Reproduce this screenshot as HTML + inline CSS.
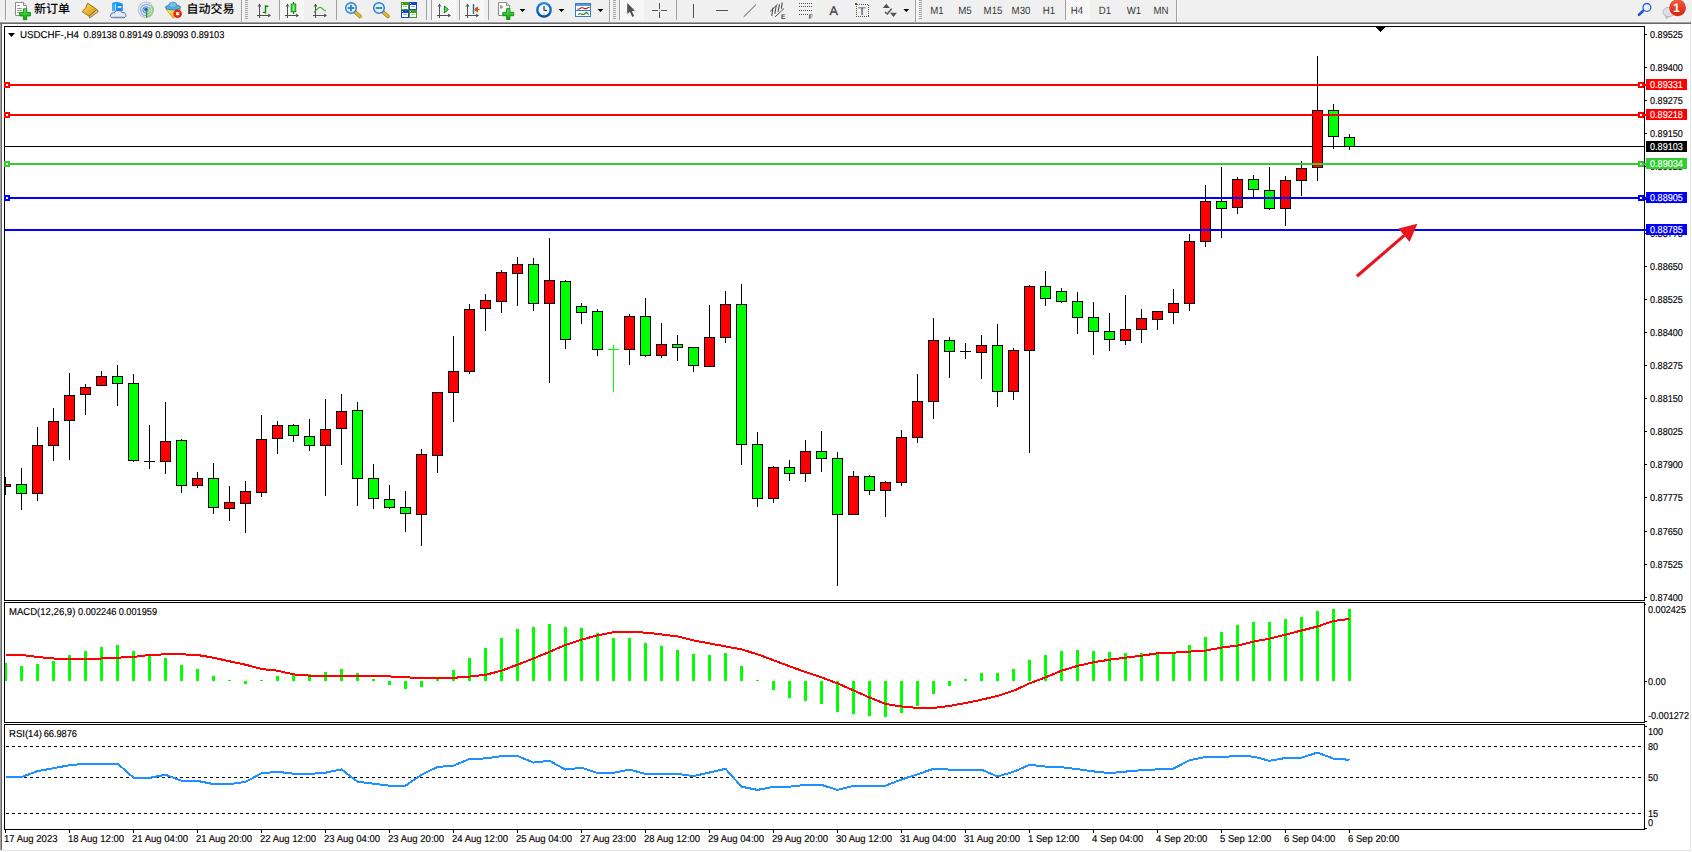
<!DOCTYPE html>
<html><head><meta charset="utf-8"><title>USDCHF-,H4</title>
<style>
html,body{margin:0;padding:0;background:#fff;overflow:hidden}
body{width:1692px;height:852px;position:relative;font-family:"Liberation Sans","Noto Sans CJK SC",sans-serif}
svg{position:absolute;left:0;top:0;display:block}
svg text{font-family:"Liberation Sans","Noto Sans CJK SC",sans-serif;white-space:pre;text-rendering:geometricPrecision}
#chart rect{shape-rendering:crispEdges}
</style></head><body>
<svg id="chart" width="1692" height="852" viewBox="0 0 1692 852">
<rect x="0" y="0" width="1692" height="22" fill="#f0f0f0"/>
<rect x="0" y="22" width="1691" height="1" fill="#a0a0a0"/>
<rect x="0" y="23" width="1691" height="1" fill="#696969"/>
<rect x="0" y="24" width="1" height="827" fill="#a0a0a0"/>
<rect x="1" y="24" width="1" height="827" fill="#696969"/>
<rect x="1690" y="24" width="1" height="827" fill="#e3e3e3"/>
<rect x="0" y="850" width="1691" height="1" fill="#e3e3e3"/>
<rect x="4" y="26" width="1641" height="1" fill="#000"/>
<rect x="4" y="26" width="1" height="804" fill="#000"/>
<rect x="1644" y="26" width="1" height="804" fill="#000"/>
<rect x="4" y="600" width="1641" height="1" fill="#000"/>
<rect x="4" y="602" width="1641" height="1" fill="#000"/>
<rect x="4" y="722" width="1641" height="1" fill="#000"/>
<rect x="4" y="724" width="1641" height="1" fill="#000"/>
<rect x="4" y="829" width="1641" height="1" fill="#000"/>
<rect x="4" y="601" width="1641" height="1" fill="#fff"/>
<rect x="4" y="723" width="1641" height="1" fill="#fff"/>
<path d="M1376 27H1385L1380.5 32Z" fill="#000" shape-rendering="crispEdges"/>
<rect x="5" y="146" width="1639" height="1" fill="#000"/>
<rect x="5" y="477" width="1" height="18" fill="#000"/>
<rect x="5" y="484" width="6" height="3" fill="#000"/>
<rect x="5" y="485" width="5" height="1" fill="#ff0000"/>
<rect x="21" y="468" width="1" height="42" fill="#000"/>
<rect x="16" y="484" width="11" height="10" fill="#000"/>
<rect x="17" y="485" width="9" height="8" fill="#00ff00"/>
<rect x="37" y="427" width="1" height="74" fill="#000"/>
<rect x="32" y="445" width="11" height="49" fill="#000"/>
<rect x="33" y="446" width="9" height="47" fill="#ff0000"/>
<rect x="53" y="408" width="1" height="53" fill="#000"/>
<rect x="48" y="421" width="11" height="25" fill="#000"/>
<rect x="49" y="422" width="9" height="23" fill="#ff0000"/>
<rect x="69" y="373" width="1" height="87" fill="#000"/>
<rect x="64" y="395" width="11" height="26" fill="#000"/>
<rect x="65" y="396" width="9" height="24" fill="#ff0000"/>
<rect x="85" y="384" width="1" height="31" fill="#000"/>
<rect x="80" y="387" width="11" height="8" fill="#000"/>
<rect x="81" y="388" width="9" height="6" fill="#ff0000"/>
<rect x="101" y="371" width="1" height="15" fill="#000"/>
<rect x="96" y="376" width="11" height="10" fill="#000"/>
<rect x="97" y="377" width="9" height="8" fill="#ff0000"/>
<rect x="117" y="365" width="1" height="41" fill="#000"/>
<rect x="112" y="376" width="11" height="8" fill="#000"/>
<rect x="113" y="377" width="9" height="6" fill="#00ff00"/>
<rect x="133" y="374" width="1" height="88" fill="#000"/>
<rect x="128" y="383" width="11" height="78" fill="#000"/>
<rect x="129" y="384" width="9" height="76" fill="#00ff00"/>
<rect x="149" y="425" width="1" height="44" fill="#000"/>
<rect x="144" y="461" width="11" height="1" fill="#000"/>
<rect x="165" y="402" width="1" height="72" fill="#000"/>
<rect x="160" y="441" width="11" height="21" fill="#000"/>
<rect x="161" y="442" width="9" height="19" fill="#ff0000"/>
<rect x="181" y="439" width="1" height="54" fill="#000"/>
<rect x="176" y="440" width="11" height="46" fill="#000"/>
<rect x="177" y="441" width="9" height="44" fill="#00ff00"/>
<rect x="197" y="472" width="1" height="16" fill="#000"/>
<rect x="192" y="478" width="11" height="8" fill="#000"/>
<rect x="193" y="479" width="9" height="6" fill="#ff0000"/>
<rect x="213" y="463" width="1" height="51" fill="#000"/>
<rect x="208" y="478" width="11" height="30" fill="#000"/>
<rect x="209" y="479" width="9" height="28" fill="#00ff00"/>
<rect x="229" y="486" width="1" height="35" fill="#000"/>
<rect x="224" y="502" width="11" height="7" fill="#000"/>
<rect x="225" y="503" width="9" height="5" fill="#ff0000"/>
<rect x="245" y="481" width="1" height="52" fill="#000"/>
<rect x="240" y="491" width="11" height="13" fill="#000"/>
<rect x="241" y="492" width="9" height="11" fill="#ff0000"/>
<rect x="261" y="415" width="1" height="82" fill="#000"/>
<rect x="256" y="439" width="11" height="54" fill="#000"/>
<rect x="257" y="440" width="9" height="52" fill="#ff0000"/>
<rect x="277" y="421" width="1" height="33" fill="#000"/>
<rect x="272" y="425" width="11" height="14" fill="#000"/>
<rect x="273" y="426" width="9" height="12" fill="#ff0000"/>
<rect x="293" y="424" width="1" height="18" fill="#000"/>
<rect x="288" y="425" width="11" height="11" fill="#000"/>
<rect x="289" y="426" width="9" height="9" fill="#00ff00"/>
<rect x="309" y="419" width="1" height="32" fill="#000"/>
<rect x="304" y="436" width="11" height="10" fill="#000"/>
<rect x="305" y="437" width="9" height="8" fill="#00ff00"/>
<rect x="325" y="399" width="1" height="97" fill="#000"/>
<rect x="320" y="429" width="11" height="17" fill="#000"/>
<rect x="321" y="430" width="9" height="15" fill="#ff0000"/>
<rect x="341" y="394" width="1" height="71" fill="#000"/>
<rect x="336" y="411" width="11" height="18" fill="#000"/>
<rect x="337" y="412" width="9" height="16" fill="#ff0000"/>
<rect x="357" y="402" width="1" height="104" fill="#000"/>
<rect x="352" y="410" width="11" height="69" fill="#000"/>
<rect x="353" y="411" width="9" height="67" fill="#00ff00"/>
<rect x="373" y="464" width="1" height="45" fill="#000"/>
<rect x="368" y="478" width="11" height="21" fill="#000"/>
<rect x="369" y="479" width="9" height="19" fill="#00ff00"/>
<rect x="389" y="485" width="1" height="24" fill="#000"/>
<rect x="384" y="499" width="11" height="9" fill="#000"/>
<rect x="385" y="500" width="9" height="7" fill="#00ff00"/>
<rect x="405" y="491" width="1" height="41" fill="#000"/>
<rect x="400" y="507" width="11" height="7" fill="#000"/>
<rect x="401" y="508" width="9" height="5" fill="#00ff00"/>
<rect x="421" y="449" width="1" height="97" fill="#000"/>
<rect x="416" y="454" width="11" height="61" fill="#000"/>
<rect x="417" y="455" width="9" height="59" fill="#ff0000"/>
<rect x="437" y="392" width="1" height="81" fill="#000"/>
<rect x="432" y="392" width="11" height="64" fill="#000"/>
<rect x="433" y="393" width="9" height="62" fill="#ff0000"/>
<rect x="453" y="336" width="1" height="86" fill="#000"/>
<rect x="448" y="371" width="11" height="22" fill="#000"/>
<rect x="449" y="372" width="9" height="20" fill="#ff0000"/>
<rect x="469" y="304" width="1" height="70" fill="#000"/>
<rect x="464" y="309" width="11" height="63" fill="#000"/>
<rect x="465" y="310" width="9" height="61" fill="#ff0000"/>
<rect x="485" y="294" width="1" height="37" fill="#000"/>
<rect x="480" y="300" width="11" height="9" fill="#000"/>
<rect x="481" y="301" width="9" height="7" fill="#ff0000"/>
<rect x="501" y="270" width="1" height="43" fill="#000"/>
<rect x="496" y="272" width="11" height="30" fill="#000"/>
<rect x="497" y="273" width="9" height="28" fill="#ff0000"/>
<rect x="517" y="257" width="1" height="49" fill="#000"/>
<rect x="512" y="264" width="11" height="10" fill="#000"/>
<rect x="513" y="265" width="9" height="8" fill="#ff0000"/>
<rect x="533" y="258" width="1" height="53" fill="#000"/>
<rect x="528" y="264" width="11" height="40" fill="#000"/>
<rect x="529" y="265" width="9" height="38" fill="#00ff00"/>
<rect x="549" y="238" width="1" height="145" fill="#000"/>
<rect x="544" y="280" width="11" height="24" fill="#000"/>
<rect x="545" y="281" width="9" height="22" fill="#ff0000"/>
<rect x="565" y="280" width="1" height="69" fill="#000"/>
<rect x="560" y="281" width="11" height="59" fill="#000"/>
<rect x="561" y="282" width="9" height="57" fill="#00ff00"/>
<rect x="581" y="303" width="1" height="21" fill="#000"/>
<rect x="576" y="306" width="11" height="7" fill="#000"/>
<rect x="577" y="307" width="9" height="5" fill="#00ff00"/>
<rect x="597" y="309" width="1" height="47" fill="#000"/>
<rect x="592" y="311" width="11" height="39" fill="#000"/>
<rect x="593" y="312" width="9" height="37" fill="#00ff00"/>
<rect x="613" y="345" width="1" height="47" fill="#00ff00"/>
<rect x="608" y="349" width="11" height="1" fill="#00ff00"/>
<rect x="629" y="314" width="1" height="51" fill="#000"/>
<rect x="624" y="316" width="11" height="34" fill="#000"/>
<rect x="625" y="317" width="9" height="32" fill="#ff0000"/>
<rect x="645" y="298" width="1" height="59" fill="#000"/>
<rect x="640" y="316" width="11" height="40" fill="#000"/>
<rect x="641" y="317" width="9" height="38" fill="#00ff00"/>
<rect x="661" y="323" width="1" height="35" fill="#000"/>
<rect x="656" y="344" width="11" height="12" fill="#000"/>
<rect x="657" y="345" width="9" height="10" fill="#ff0000"/>
<rect x="677" y="335" width="1" height="26" fill="#000"/>
<rect x="672" y="344" width="11" height="4" fill="#000"/>
<rect x="673" y="345" width="9" height="2" fill="#00ff00"/>
<rect x="693" y="347" width="1" height="25" fill="#000"/>
<rect x="688" y="347" width="11" height="19" fill="#000"/>
<rect x="689" y="348" width="9" height="17" fill="#00ff00"/>
<rect x="709" y="305" width="1" height="62" fill="#000"/>
<rect x="704" y="337" width="11" height="30" fill="#000"/>
<rect x="705" y="338" width="9" height="28" fill="#ff0000"/>
<rect x="725" y="291" width="1" height="52" fill="#000"/>
<rect x="720" y="304" width="11" height="34" fill="#000"/>
<rect x="721" y="305" width="9" height="32" fill="#ff0000"/>
<rect x="741" y="284" width="1" height="181" fill="#000"/>
<rect x="736" y="304" width="11" height="141" fill="#000"/>
<rect x="737" y="305" width="9" height="139" fill="#00ff00"/>
<rect x="757" y="432" width="1" height="75" fill="#000"/>
<rect x="752" y="444" width="11" height="55" fill="#000"/>
<rect x="753" y="445" width="9" height="53" fill="#00ff00"/>
<rect x="773" y="466" width="1" height="37" fill="#000"/>
<rect x="768" y="467" width="11" height="32" fill="#000"/>
<rect x="769" y="468" width="9" height="30" fill="#ff0000"/>
<rect x="789" y="460" width="1" height="21" fill="#000"/>
<rect x="784" y="467" width="11" height="7" fill="#000"/>
<rect x="785" y="468" width="9" height="5" fill="#00ff00"/>
<rect x="805" y="440" width="1" height="42" fill="#000"/>
<rect x="800" y="451" width="11" height="23" fill="#000"/>
<rect x="801" y="452" width="9" height="21" fill="#ff0000"/>
<rect x="821" y="431" width="1" height="41" fill="#000"/>
<rect x="816" y="451" width="11" height="8" fill="#000"/>
<rect x="817" y="452" width="9" height="6" fill="#00ff00"/>
<rect x="837" y="452" width="1" height="134" fill="#000"/>
<rect x="832" y="458" width="11" height="57" fill="#000"/>
<rect x="833" y="459" width="9" height="55" fill="#00ff00"/>
<rect x="853" y="471" width="1" height="44" fill="#000"/>
<rect x="848" y="476" width="11" height="39" fill="#000"/>
<rect x="849" y="477" width="9" height="37" fill="#ff0000"/>
<rect x="869" y="475" width="1" height="20" fill="#000"/>
<rect x="864" y="476" width="11" height="15" fill="#000"/>
<rect x="865" y="477" width="9" height="13" fill="#00ff00"/>
<rect x="885" y="481" width="1" height="36" fill="#000"/>
<rect x="880" y="482" width="11" height="9" fill="#000"/>
<rect x="881" y="483" width="9" height="7" fill="#ff0000"/>
<rect x="901" y="430" width="1" height="56" fill="#000"/>
<rect x="896" y="437" width="11" height="46" fill="#000"/>
<rect x="897" y="438" width="9" height="44" fill="#ff0000"/>
<rect x="917" y="374" width="1" height="69" fill="#000"/>
<rect x="912" y="401" width="11" height="37" fill="#000"/>
<rect x="913" y="402" width="9" height="35" fill="#ff0000"/>
<rect x="933" y="318" width="1" height="101" fill="#000"/>
<rect x="928" y="340" width="11" height="62" fill="#000"/>
<rect x="929" y="341" width="9" height="60" fill="#ff0000"/>
<rect x="949" y="337" width="1" height="41" fill="#000"/>
<rect x="944" y="340" width="11" height="12" fill="#000"/>
<rect x="945" y="341" width="9" height="10" fill="#00ff00"/>
<rect x="965" y="343" width="1" height="16" fill="#000"/>
<rect x="960" y="351" width="11" height="1" fill="#000"/>
<rect x="981" y="335" width="1" height="44" fill="#000"/>
<rect x="976" y="345" width="11" height="8" fill="#000"/>
<rect x="977" y="346" width="9" height="6" fill="#ff0000"/>
<rect x="997" y="324" width="1" height="83" fill="#000"/>
<rect x="992" y="345" width="11" height="47" fill="#000"/>
<rect x="993" y="346" width="9" height="45" fill="#00ff00"/>
<rect x="1013" y="348" width="1" height="52" fill="#000"/>
<rect x="1008" y="350" width="11" height="42" fill="#000"/>
<rect x="1009" y="351" width="9" height="40" fill="#ff0000"/>
<rect x="1029" y="285" width="1" height="168" fill="#000"/>
<rect x="1024" y="286" width="11" height="65" fill="#000"/>
<rect x="1025" y="287" width="9" height="63" fill="#ff0000"/>
<rect x="1045" y="271" width="1" height="35" fill="#000"/>
<rect x="1040" y="286" width="11" height="13" fill="#000"/>
<rect x="1041" y="287" width="9" height="11" fill="#00ff00"/>
<rect x="1061" y="288" width="1" height="15" fill="#000"/>
<rect x="1056" y="291" width="11" height="11" fill="#000"/>
<rect x="1057" y="292" width="9" height="9" fill="#00ff00"/>
<rect x="1077" y="292" width="1" height="42" fill="#000"/>
<rect x="1072" y="301" width="11" height="17" fill="#000"/>
<rect x="1073" y="302" width="9" height="15" fill="#00ff00"/>
<rect x="1093" y="302" width="1" height="53" fill="#000"/>
<rect x="1088" y="317" width="11" height="15" fill="#000"/>
<rect x="1089" y="318" width="9" height="13" fill="#00ff00"/>
<rect x="1109" y="313" width="1" height="38" fill="#000"/>
<rect x="1104" y="331" width="11" height="9" fill="#000"/>
<rect x="1105" y="332" width="9" height="7" fill="#00ff00"/>
<rect x="1125" y="295" width="1" height="50" fill="#000"/>
<rect x="1120" y="329" width="11" height="12" fill="#000"/>
<rect x="1121" y="330" width="9" height="10" fill="#ff0000"/>
<rect x="1141" y="309" width="1" height="34" fill="#000"/>
<rect x="1136" y="318" width="11" height="12" fill="#000"/>
<rect x="1137" y="319" width="9" height="10" fill="#ff0000"/>
<rect x="1157" y="311" width="1" height="19" fill="#000"/>
<rect x="1152" y="311" width="11" height="9" fill="#000"/>
<rect x="1153" y="312" width="9" height="7" fill="#ff0000"/>
<rect x="1173" y="289" width="1" height="35" fill="#000"/>
<rect x="1168" y="303" width="11" height="10" fill="#000"/>
<rect x="1169" y="304" width="9" height="8" fill="#ff0000"/>
<rect x="1189" y="234" width="1" height="77" fill="#000"/>
<rect x="1184" y="241" width="11" height="63" fill="#000"/>
<rect x="1185" y="242" width="9" height="61" fill="#ff0000"/>
<rect x="1205" y="185" width="1" height="62" fill="#000"/>
<rect x="1200" y="201" width="11" height="41" fill="#000"/>
<rect x="1201" y="202" width="9" height="39" fill="#ff0000"/>
<rect x="1221" y="167" width="1" height="71" fill="#000"/>
<rect x="1216" y="201" width="11" height="8" fill="#000"/>
<rect x="1217" y="202" width="9" height="6" fill="#00ff00"/>
<rect x="1237" y="177" width="1" height="37" fill="#000"/>
<rect x="1232" y="179" width="11" height="29" fill="#000"/>
<rect x="1233" y="180" width="9" height="27" fill="#ff0000"/>
<rect x="1253" y="175" width="1" height="22" fill="#000"/>
<rect x="1248" y="179" width="11" height="11" fill="#000"/>
<rect x="1249" y="180" width="9" height="9" fill="#00ff00"/>
<rect x="1269" y="167" width="1" height="43" fill="#000"/>
<rect x="1264" y="190" width="11" height="19" fill="#000"/>
<rect x="1265" y="191" width="9" height="17" fill="#00ff00"/>
<rect x="1285" y="176" width="1" height="50" fill="#000"/>
<rect x="1280" y="180" width="11" height="29" fill="#000"/>
<rect x="1281" y="181" width="9" height="27" fill="#ff0000"/>
<rect x="1301" y="161" width="1" height="35" fill="#000"/>
<rect x="1296" y="168" width="11" height="13" fill="#000"/>
<rect x="1297" y="169" width="9" height="11" fill="#ff0000"/>
<rect x="1317" y="56" width="1" height="125" fill="#000"/>
<rect x="1312" y="110" width="11" height="58" fill="#000"/>
<rect x="1313" y="111" width="9" height="56" fill="#ff0000"/>
<rect x="1333" y="104" width="1" height="45" fill="#000"/>
<rect x="1328" y="110" width="11" height="27" fill="#000"/>
<rect x="1329" y="111" width="9" height="25" fill="#00ff00"/>
<rect x="1349" y="134" width="1" height="16" fill="#000"/>
<rect x="1344" y="137" width="11" height="10" fill="#000"/>
<rect x="1345" y="138" width="9" height="8" fill="#00ff00"/>
<rect x="5" y="84" width="1641" height="2" fill="#ff0000"/>
<rect x="4" y="82" width="6" height="6" fill="#ff0000"/>
<rect x="6" y="84" width="2" height="2" fill="#fff"/>
<rect x="1638" y="82" width="6" height="6" fill="#ff0000"/>
<rect x="1640" y="84" width="2" height="2" fill="#fff"/>
<rect x="5" y="114" width="1641" height="2" fill="#ff0000"/>
<rect x="4" y="112" width="6" height="6" fill="#ff0000"/>
<rect x="6" y="114" width="2" height="2" fill="#fff"/>
<rect x="1638" y="112" width="6" height="6" fill="#ff0000"/>
<rect x="1640" y="114" width="2" height="2" fill="#fff"/>
<rect x="5" y="163" width="1641" height="2" fill="#32cd32"/>
<rect x="4" y="161" width="6" height="6" fill="#32cd32"/>
<rect x="6" y="163" width="2" height="2" fill="#fff"/>
<rect x="1638" y="161" width="6" height="6" fill="#32cd32"/>
<rect x="1640" y="163" width="2" height="2" fill="#fff"/>
<rect x="5" y="197" width="1641" height="2" fill="#0000ff"/>
<rect x="4" y="195" width="6" height="6" fill="#0000ff"/>
<rect x="6" y="197" width="2" height="2" fill="#fff"/>
<rect x="1638" y="195" width="6" height="6" fill="#0000ff"/>
<rect x="1640" y="197" width="2" height="2" fill="#fff"/>
<rect x="5" y="229" width="1641" height="2" fill="#0000ff"/>
<g fill="#e8141c" stroke="none"><path d="M1355.9 275.1L1357.9 277.4L1405.3 236.6L1403.3 234.3Z"/><path d="M1417.4 223.7L1398.5 228.6L1409.6 242Z"/></g>
<rect x="1645" y="34" width="2" height="1" fill="#000"/>
<text transform="translate(1650 38) scale(0.91 1)" fill="#000" stroke="#000" stroke-width=".15" font-size="10" >0.89525</text>
<rect x="1645" y="67" width="2" height="1" fill="#000"/>
<text transform="translate(1650 71) scale(0.91 1)" fill="#000" stroke="#000" stroke-width=".15" font-size="10" >0.89400</text>
<rect x="1645" y="100" width="2" height="1" fill="#000"/>
<text transform="translate(1650 104) scale(0.91 1)" fill="#000" stroke="#000" stroke-width=".15" font-size="10" >0.89275</text>
<rect x="1645" y="133" width="2" height="1" fill="#000"/>
<text transform="translate(1650 137) scale(0.91 1)" fill="#000" stroke="#000" stroke-width=".15" font-size="10" >0.89150</text>
<rect x="1645" y="166" width="2" height="1" fill="#000"/>
<text transform="translate(1650 170) scale(0.91 1)" fill="#000" stroke="#000" stroke-width=".15" font-size="10" >0.89025</text>
<rect x="1645" y="199" width="2" height="1" fill="#000"/>
<text transform="translate(1650 203) scale(0.91 1)" fill="#000" stroke="#000" stroke-width=".15" font-size="10" >0.88900</text>
<rect x="1645" y="233" width="2" height="1" fill="#000"/>
<text transform="translate(1650 237) scale(0.91 1)" fill="#000" stroke="#000" stroke-width=".15" font-size="10" >0.88775</text>
<rect x="1645" y="266" width="2" height="1" fill="#000"/>
<text transform="translate(1650 270) scale(0.91 1)" fill="#000" stroke="#000" stroke-width=".15" font-size="10" >0.88650</text>
<rect x="1645" y="299" width="2" height="1" fill="#000"/>
<text transform="translate(1650 303) scale(0.91 1)" fill="#000" stroke="#000" stroke-width=".15" font-size="10" >0.88525</text>
<rect x="1645" y="332" width="2" height="1" fill="#000"/>
<text transform="translate(1650 336) scale(0.91 1)" fill="#000" stroke="#000" stroke-width=".15" font-size="10" >0.88400</text>
<rect x="1645" y="365" width="2" height="1" fill="#000"/>
<text transform="translate(1650 369) scale(0.91 1)" fill="#000" stroke="#000" stroke-width=".15" font-size="10" >0.88275</text>
<rect x="1645" y="398" width="2" height="1" fill="#000"/>
<text transform="translate(1650 402) scale(0.91 1)" fill="#000" stroke="#000" stroke-width=".15" font-size="10" >0.88150</text>
<rect x="1645" y="431" width="2" height="1" fill="#000"/>
<text transform="translate(1650 435) scale(0.91 1)" fill="#000" stroke="#000" stroke-width=".15" font-size="10" >0.88025</text>
<rect x="1645" y="464" width="2" height="1" fill="#000"/>
<text transform="translate(1650 468) scale(0.91 1)" fill="#000" stroke="#000" stroke-width=".15" font-size="10" >0.87900</text>
<rect x="1645" y="497" width="2" height="1" fill="#000"/>
<text transform="translate(1650 501) scale(0.91 1)" fill="#000" stroke="#000" stroke-width=".15" font-size="10" >0.87775</text>
<rect x="1645" y="531" width="2" height="1" fill="#000"/>
<text transform="translate(1650 535) scale(0.91 1)" fill="#000" stroke="#000" stroke-width=".15" font-size="10" >0.87650</text>
<rect x="1645" y="564" width="2" height="1" fill="#000"/>
<text transform="translate(1650 568) scale(0.91 1)" fill="#000" stroke="#000" stroke-width=".15" font-size="10" >0.87525</text>
<rect x="1645" y="597" width="2" height="1" fill="#000"/>
<text transform="translate(1650 601) scale(0.91 1)" fill="#000" stroke="#000" stroke-width=".15" font-size="10" >0.87400</text>
<rect x="1646" y="79" width="41" height="11" fill="#ff0000"/>
<text transform="translate(1650 88) scale(0.91 1)" fill="#fff" stroke="#fff" stroke-width=".15" font-size="10" >0.89331</text>
<rect x="1646" y="109" width="41" height="11" fill="#ff0000"/>
<text transform="translate(1650 118) scale(0.91 1)" fill="#fff" stroke="#fff" stroke-width=".15" font-size="10" >0.89218</text>
<rect x="1646" y="158" width="41" height="11" fill="#32cd32"/>
<text transform="translate(1650 167) scale(0.91 1)" fill="#fff" stroke="#fff" stroke-width=".15" font-size="10" >0.89034</text>
<rect x="1646" y="192" width="41" height="11" fill="#0000ff"/>
<text transform="translate(1650 201) scale(0.91 1)" fill="#fff" stroke="#fff" stroke-width=".15" font-size="10" >0.88905</text>
<rect x="1646" y="224" width="41" height="11" fill="#0000ff"/>
<text transform="translate(1650 233) scale(0.91 1)" fill="#fff" stroke="#fff" stroke-width=".15" font-size="10" >0.88785</text>
<rect x="1646" y="141" width="41" height="11" fill="#000"/>
<text transform="translate(1650 150) scale(0.91 1)" fill="#fff" stroke="#fff" stroke-width=".15" font-size="10" >0.89103</text>
<rect x="5" y="663" width="2" height="18" fill="#00ff00"/>
<rect x="20" y="666" width="3" height="15" fill="#00ff00"/>
<rect x="36" y="664" width="3" height="17" fill="#00ff00"/>
<rect x="52" y="661" width="3" height="20" fill="#00ff00"/>
<rect x="68" y="655" width="3" height="26" fill="#00ff00"/>
<rect x="84" y="651" width="3" height="30" fill="#00ff00"/>
<rect x="100" y="647" width="3" height="34" fill="#00ff00"/>
<rect x="116" y="645" width="3" height="36" fill="#00ff00"/>
<rect x="132" y="651" width="3" height="30" fill="#00ff00"/>
<rect x="148" y="656" width="3" height="25" fill="#00ff00"/>
<rect x="164" y="658" width="3" height="23" fill="#00ff00"/>
<rect x="180" y="665" width="3" height="16" fill="#00ff00"/>
<rect x="196" y="669" width="3" height="12" fill="#00ff00"/>
<rect x="212" y="676" width="3" height="5" fill="#00ff00"/>
<rect x="228" y="680" width="3" height="1" fill="#00ff00"/>
<rect x="244" y="681" width="3" height="3" fill="#00ff00"/>
<rect x="260" y="680" width="3" height="1" fill="#00ff00"/>
<rect x="276" y="676" width="3" height="5" fill="#00ff00"/>
<rect x="292" y="675" width="3" height="6" fill="#00ff00"/>
<rect x="308" y="674" width="3" height="7" fill="#00ff00"/>
<rect x="324" y="672" width="3" height="9" fill="#00ff00"/>
<rect x="340" y="669" width="3" height="12" fill="#00ff00"/>
<rect x="356" y="673" width="3" height="8" fill="#00ff00"/>
<rect x="372" y="679" width="3" height="2" fill="#00ff00"/>
<rect x="388" y="681" width="3" height="4" fill="#00ff00"/>
<rect x="404" y="681" width="3" height="8" fill="#00ff00"/>
<rect x="420" y="681" width="3" height="6" fill="#00ff00"/>
<rect x="436" y="678" width="3" height="3" fill="#00ff00"/>
<rect x="452" y="670" width="3" height="11" fill="#00ff00"/>
<rect x="468" y="658" width="3" height="23" fill="#00ff00"/>
<rect x="484" y="648" width="3" height="33" fill="#00ff00"/>
<rect x="500" y="638" width="3" height="43" fill="#00ff00"/>
<rect x="516" y="629" width="3" height="52" fill="#00ff00"/>
<rect x="532" y="627" width="3" height="54" fill="#00ff00"/>
<rect x="548" y="624" width="3" height="57" fill="#00ff00"/>
<rect x="564" y="627" width="3" height="54" fill="#00ff00"/>
<rect x="580" y="628" width="3" height="53" fill="#00ff00"/>
<rect x="596" y="633" width="3" height="48" fill="#00ff00"/>
<rect x="612" y="638" width="3" height="43" fill="#00ff00"/>
<rect x="628" y="638" width="3" height="43" fill="#00ff00"/>
<rect x="644" y="643" width="3" height="38" fill="#00ff00"/>
<rect x="660" y="646" width="3" height="35" fill="#00ff00"/>
<rect x="676" y="650" width="3" height="31" fill="#00ff00"/>
<rect x="692" y="654" width="3" height="27" fill="#00ff00"/>
<rect x="708" y="655" width="3" height="26" fill="#00ff00"/>
<rect x="724" y="653" width="3" height="28" fill="#00ff00"/>
<rect x="740" y="666" width="3" height="15" fill="#00ff00"/>
<rect x="756" y="680" width="3" height="1" fill="#00ff00"/>
<rect x="772" y="681" width="3" height="9" fill="#00ff00"/>
<rect x="788" y="681" width="3" height="17" fill="#00ff00"/>
<rect x="804" y="681" width="3" height="20" fill="#00ff00"/>
<rect x="820" y="681" width="3" height="23" fill="#00ff00"/>
<rect x="836" y="681" width="3" height="31" fill="#00ff00"/>
<rect x="852" y="681" width="3" height="33" fill="#00ff00"/>
<rect x="868" y="681" width="3" height="35" fill="#00ff00"/>
<rect x="884" y="681" width="3" height="36" fill="#00ff00"/>
<rect x="900" y="681" width="3" height="32" fill="#00ff00"/>
<rect x="916" y="681" width="3" height="25" fill="#00ff00"/>
<rect x="932" y="681" width="3" height="13" fill="#00ff00"/>
<rect x="948" y="681" width="3" height="5" fill="#00ff00"/>
<rect x="964" y="679" width="3" height="2" fill="#00ff00"/>
<rect x="980" y="673" width="3" height="8" fill="#00ff00"/>
<rect x="996" y="673" width="3" height="8" fill="#00ff00"/>
<rect x="1012" y="669" width="3" height="12" fill="#00ff00"/>
<rect x="1028" y="660" width="3" height="21" fill="#00ff00"/>
<rect x="1044" y="655" width="3" height="26" fill="#00ff00"/>
<rect x="1060" y="651" width="3" height="30" fill="#00ff00"/>
<rect x="1076" y="650" width="3" height="31" fill="#00ff00"/>
<rect x="1092" y="651" width="3" height="30" fill="#00ff00"/>
<rect x="1108" y="652" width="3" height="29" fill="#00ff00"/>
<rect x="1124" y="653" width="3" height="28" fill="#00ff00"/>
<rect x="1140" y="653" width="3" height="28" fill="#00ff00"/>
<rect x="1156" y="654" width="3" height="27" fill="#00ff00"/>
<rect x="1172" y="653" width="3" height="28" fill="#00ff00"/>
<rect x="1188" y="645" width="3" height="36" fill="#00ff00"/>
<rect x="1204" y="637" width="3" height="44" fill="#00ff00"/>
<rect x="1220" y="632" width="3" height="49" fill="#00ff00"/>
<rect x="1236" y="625" width="3" height="56" fill="#00ff00"/>
<rect x="1252" y="622" width="3" height="59" fill="#00ff00"/>
<rect x="1268" y="622" width="3" height="59" fill="#00ff00"/>
<rect x="1284" y="619" width="3" height="62" fill="#00ff00"/>
<rect x="1300" y="617" width="3" height="64" fill="#00ff00"/>
<rect x="1316" y="611" width="3" height="70" fill="#00ff00"/>
<rect x="1332" y="609" width="3" height="72" fill="#00ff00"/>
<rect x="1348" y="609" width="3" height="72" fill="#00ff00"/>
<polyline points="5.5,654.9 21.5,654.9 37.5,657.0 53.5,658.5 69.5,659.0 85.5,659.0 101.5,658.5 117.5,657.7 133.5,656.9 149.5,655.0 165.5,654.3 181.5,654.3 197.5,655.0 213.5,657.7 229.5,661.3 245.5,664.7 261.5,669.0 277.5,670.7 293.5,674.4 309.5,675.6 325.5,676.0 341.5,676.0 357.5,676.0 373.5,676.0 389.5,676.4 405.5,677.4 421.5,677.8 437.5,677.8 453.5,677.8 469.5,676.6 485.5,674.8 501.5,670.7 517.5,664.7 533.5,658.5 549.5,651.8 565.5,645.0 581.5,639.6 597.5,635.4 613.5,632.2 629.5,632.0 645.5,632.6 661.5,634.4 677.5,636.4 693.5,640.4 709.5,643.4 725.5,646.4 741.5,649.4 757.5,654.3 773.5,660.3 789.5,666.3 805.5,672.0 821.5,677.4 837.5,683.4 853.5,690.4 869.5,697.5 885.5,703.9 901.5,706.5 917.5,707.9 933.5,707.9 949.5,705.9 965.5,703.0 981.5,699.7 997.5,695.9 1013.5,690.8 1029.5,683.4 1045.5,677.4 1061.5,670.7 1077.5,665.9 1093.5,662.3 1109.5,659.7 1125.5,657.7 1141.5,655.7 1157.5,653.3 1173.5,652.7 1189.5,651.6 1205.5,650.6 1221.5,647.6 1237.5,645.6 1253.5,641.6 1269.5,638.6 1285.5,634.6 1301.5,630.5 1317.5,626.5 1333.5,621.0 1349.5,618.9" fill="none" stroke="#ff0000" stroke-width="2" stroke-linejoin="round" shape-rendering="crispEdges"/>
<rect x="1645" y="604" width="1" height="1" fill="#000"/>
<text transform="translate(1648 613) scale(0.91 1)" fill="#000" stroke="#000" stroke-width=".15" font-size="10" >0.002425</text>
<rect x="1645" y="681" width="2" height="1" fill="#000"/>
<text transform="translate(1648 685) scale(0.91 1)" fill="#000" stroke="#000" stroke-width=".15" font-size="10" >0.00</text>
<rect x="1645" y="721" width="2" height="1" fill="#000"/>
<text transform="translate(1648 719) scale(0.91 1)" fill="#000" stroke="#000" stroke-width=".15" font-size="10" >-0.001272</text>
<text transform="translate(9 615) scale(0.955 1)" fill="#000" stroke="#000" stroke-width=".15" font-size="10" >MACD(12,26,9)</text>
<text transform="translate(78 615) scale(0.92 1)" fill="#000" stroke="#000" stroke-width=".15" font-size="10" >0.002246</text>
<text transform="translate(118.7 615) scale(0.92 1)" fill="#000" stroke="#000" stroke-width=".15" font-size="10" >0.001959</text>
<line x1="6" x2="1644" y1="746.5" y2="746.5" stroke="#000" stroke-width="1" stroke-dasharray="3 3" shape-rendering="crispEdges"/>
<line x1="6" x2="1644" y1="777.5" y2="777.5" stroke="#000" stroke-width="1" stroke-dasharray="3 3" shape-rendering="crispEdges"/>
<line x1="6" x2="1644" y1="813.5" y2="813.5" stroke="#000" stroke-width="1" stroke-dasharray="3 3" shape-rendering="crispEdges"/>
<polyline points="5.5,777.0 21.5,777.0 37.5,771.2 53.5,768.2 69.5,765.2 85.5,763.8 101.5,763.6 117.5,763.6 133.5,777.7 149.5,777.9 165.5,774.7 181.5,780.7 197.5,780.9 213.5,784.1 229.5,784.1 245.5,781.9 261.5,773.3 277.5,771.8 293.5,773.7 309.5,773.9 325.5,772.7 341.5,769.4 357.5,781.7 373.5,783.7 389.5,785.7 405.5,785.7 421.5,774.7 437.5,767.0 453.5,765.6 469.5,759.0 485.5,758.4 501.5,756.2 517.5,756.0 533.5,762.6 549.5,760.8 565.5,769.6 581.5,767.8 597.5,772.9 613.5,772.9 629.5,769.6 645.5,773.9 661.5,773.9 677.5,773.9 693.5,776.1 709.5,772.5 725.5,768.8 741.5,786.7 757.5,789.9 773.5,786.9 789.5,786.7 805.5,784.9 821.5,784.9 837.5,789.9 853.5,785.9 869.5,785.9 885.5,785.7 901.5,779.5 917.5,774.3 933.5,768.8 949.5,769.6 965.5,769.6 981.5,769.6 997.5,776.5 1013.5,771.8 1029.5,764.8 1045.5,766.6 1061.5,767.2 1077.5,769.2 1093.5,771.4 1109.5,773.1 1125.5,771.6 1141.5,770.2 1157.5,769.4 1173.5,768.6 1189.5,760.2 1205.5,757.0 1221.5,757.0 1237.5,756.0 1253.5,756.6 1269.5,760.8 1285.5,758.0 1301.5,757.6 1317.5,752.6 1333.5,758.6 1349.5,759.8" fill="none" stroke="#1e90ff" stroke-width="2" stroke-linejoin="round" shape-rendering="crispEdges"/>
<rect x="1645" y="726" width="2" height="1" fill="#000"/>
<text transform="translate(1648 735) scale(0.91 1)" fill="#000" stroke="#000" stroke-width=".15" font-size="10" >100</text>
<text transform="translate(1648 750) scale(0.91 1)" fill="#000" stroke="#000" stroke-width=".15" font-size="10" >80</text>
<text transform="translate(1648 781) scale(0.91 1)" fill="#000" stroke="#000" stroke-width=".15" font-size="10" >50</text>
<text transform="translate(1648 817) scale(0.91 1)" fill="#000" stroke="#000" stroke-width=".15" font-size="10" >15</text>
<text transform="translate(1648 826) scale(0.91 1)" fill="#000" stroke="#000" stroke-width=".15" font-size="10" >0</text>
<rect x="1645" y="828" width="2" height="1" fill="#000"/>
<text transform="translate(9 737) scale(0.955 1)" fill="#000" stroke="#000" stroke-width=".15" font-size="10" >RSI(14)</text>
<text transform="translate(43.7 737) scale(0.92 1)" fill="#000" stroke="#000" stroke-width=".15" font-size="10" >66.9876</text>
<rect x="5" y="830" width="1" height="3" fill="#000"/>
<text transform="translate(4 842) scale(0.952 1)" fill="#000" stroke="#000" stroke-width=".15" font-size="10" >17 Aug 2023</text>
<rect x="69" y="830" width="1" height="3" fill="#000"/>
<text transform="translate(68 842) scale(0.952 1)" fill="#000" stroke="#000" stroke-width=".15" font-size="10" >18 Aug 12:00</text>
<rect x="133" y="830" width="1" height="3" fill="#000"/>
<text transform="translate(132 842) scale(0.952 1)" fill="#000" stroke="#000" stroke-width=".15" font-size="10" >21 Aug 04:00</text>
<rect x="197" y="830" width="1" height="3" fill="#000"/>
<text transform="translate(196 842) scale(0.952 1)" fill="#000" stroke="#000" stroke-width=".15" font-size="10" >21 Aug 20:00</text>
<rect x="261" y="830" width="1" height="3" fill="#000"/>
<text transform="translate(260 842) scale(0.952 1)" fill="#000" stroke="#000" stroke-width=".15" font-size="10" >22 Aug 12:00</text>
<rect x="325" y="830" width="1" height="3" fill="#000"/>
<text transform="translate(324 842) scale(0.952 1)" fill="#000" stroke="#000" stroke-width=".15" font-size="10" >23 Aug 04:00</text>
<rect x="389" y="830" width="1" height="3" fill="#000"/>
<text transform="translate(388 842) scale(0.952 1)" fill="#000" stroke="#000" stroke-width=".15" font-size="10" >23 Aug 20:00</text>
<rect x="453" y="830" width="1" height="3" fill="#000"/>
<text transform="translate(452 842) scale(0.952 1)" fill="#000" stroke="#000" stroke-width=".15" font-size="10" >24 Aug 12:00</text>
<rect x="517" y="830" width="1" height="3" fill="#000"/>
<text transform="translate(516 842) scale(0.952 1)" fill="#000" stroke="#000" stroke-width=".15" font-size="10" >25 Aug 04:00</text>
<rect x="581" y="830" width="1" height="3" fill="#000"/>
<text transform="translate(580 842) scale(0.952 1)" fill="#000" stroke="#000" stroke-width=".15" font-size="10" >27 Aug 23:00</text>
<rect x="645" y="830" width="1" height="3" fill="#000"/>
<text transform="translate(644 842) scale(0.952 1)" fill="#000" stroke="#000" stroke-width=".15" font-size="10" >28 Aug 12:00</text>
<rect x="709" y="830" width="1" height="3" fill="#000"/>
<text transform="translate(708 842) scale(0.952 1)" fill="#000" stroke="#000" stroke-width=".15" font-size="10" >29 Aug 04:00</text>
<rect x="773" y="830" width="1" height="3" fill="#000"/>
<text transform="translate(772 842) scale(0.952 1)" fill="#000" stroke="#000" stroke-width=".15" font-size="10" >29 Aug 20:00</text>
<rect x="837" y="830" width="1" height="3" fill="#000"/>
<text transform="translate(836 842) scale(0.952 1)" fill="#000" stroke="#000" stroke-width=".15" font-size="10" >30 Aug 12:00</text>
<rect x="901" y="830" width="1" height="3" fill="#000"/>
<text transform="translate(900 842) scale(0.952 1)" fill="#000" stroke="#000" stroke-width=".15" font-size="10" >31 Aug 04:00</text>
<rect x="965" y="830" width="1" height="3" fill="#000"/>
<text transform="translate(964 842) scale(0.952 1)" fill="#000" stroke="#000" stroke-width=".15" font-size="10" >31 Aug 20:00</text>
<rect x="1029" y="830" width="1" height="3" fill="#000"/>
<text transform="translate(1028 842) scale(0.952 1)" fill="#000" stroke="#000" stroke-width=".15" font-size="10" >1 Sep 12:00</text>
<rect x="1093" y="830" width="1" height="3" fill="#000"/>
<text transform="translate(1092 842) scale(0.952 1)" fill="#000" stroke="#000" stroke-width=".15" font-size="10" >4 Sep 04:00</text>
<rect x="1157" y="830" width="1" height="3" fill="#000"/>
<text transform="translate(1156 842) scale(0.952 1)" fill="#000" stroke="#000" stroke-width=".15" font-size="10" >4 Sep 20:00</text>
<rect x="1221" y="830" width="1" height="3" fill="#000"/>
<text transform="translate(1220 842) scale(0.952 1)" fill="#000" stroke="#000" stroke-width=".15" font-size="10" >5 Sep 12:00</text>
<rect x="1285" y="830" width="1" height="3" fill="#000"/>
<text transform="translate(1284 842) scale(0.952 1)" fill="#000" stroke="#000" stroke-width=".15" font-size="10" >6 Sep 04:00</text>
<rect x="1349" y="830" width="1" height="3" fill="#000"/>
<text transform="translate(1348 842) scale(0.952 1)" fill="#000" stroke="#000" stroke-width=".15" font-size="10" >6 Sep 20:00</text>
<path d="M8 33H15L11.5 37Z" fill="#000"/>
<text transform="translate(20 38) scale(0.972 1)" fill="#000" stroke="#000" stroke-width=".15" font-size="10" >USDCHF-,H4</text>
<text transform="translate(83.6 38) scale(0.92 1)" fill="#000" stroke="#000" stroke-width=".15" font-size="10" >0.89138 0.89149 0.89093 0.89103</text>
</svg>
<svg id="toolbar" width="1692" height="24" viewBox="0 0 1692 24">
<defs>
<linearGradient id="gPlus" x1="0" y1="0" x2="0" y2="1"><stop offset="0" stop-color="#5fe85f"/><stop offset="1" stop-color="#08a008"/></linearGradient>
<linearGradient id="gBook" x1="0" y1="0" x2="1" y2="1"><stop offset="0" stop-color="#ffe45a"/><stop offset="1" stop-color="#d08c10"/></linearGradient>
<linearGradient id="gFace" x1="0" y1="0" x2="1" y2="1"><stop offset="0" stop-color="#fff08a"/><stop offset="1" stop-color="#e0aa00"/></linearGradient>
<linearGradient id="gBadge" x1="0" y1="0" x2="0" y2="1"><stop offset="0" stop-color="#ea5e40"/><stop offset="1" stop-color="#dc1c0c"/></linearGradient>
<linearGradient id="gClock" x1="0" y1="0" x2="0" y2="1"><stop offset="0" stop-color="#2a8cf0"/><stop offset="1" stop-color="#0a48a0"/></linearGradient>
<linearGradient id="gCandle" x1="0" y1="0" x2="1" y2="0"><stop offset="0" stop-color="#20c020"/><stop offset=".5" stop-color="#80f080"/><stop offset="1" stop-color="#20c020"/></linearGradient>
<pattern id="chk" width="2" height="2" patternUnits="userSpaceOnUse"><rect width="2" height="2" fill="#f0f0f0"/><rect width="1" height="1" fill="#fff"/><rect x="1" y="1" width="1" height="1" fill="#fff"/></pattern>
<g id="axes" fill="#505050"><rect x="0" y="4" width="1" height="14"/><rect x="-2" y="15" width="13" height="1"/><path d="M.5 3.4L-1.4 6.4H2.4Z"/><path d="M12 15.5L9.2 13.6V17.4Z"/></g>
<path id="dd" d="M-2.9 0H2.9L0 3.1Z" fill="#000"/>
<g id="grip" fill="#a6a6a6" shape-rendering="crispEdges"><rect y="0" width="3" height="1"/><rect y="2" width="3" height="1"/><rect y="4" width="3" height="1"/><rect y="6" width="3" height="1"/><rect y="8" width="3" height="1"/><rect y="10" width="3" height="1"/><rect y="12" width="3" height="1"/><rect y="14" width="3" height="1"/><rect y="16" width="3" height="1"/><rect y="18" width="3" height="1"/></g>
<g id="doc"><path d="M.5 .5H8.5L11.5 3.5V13.5H.5Z" fill="#fff" stroke="#8c8c8c"/><path d="M8.5 .5V3.5H11.5" fill="#e8e8e8" stroke="#8c8c8c"/></g>
<g id="plus"><path d="M-1.6 -5.4H1.7V-1.6H5.5V1.7H1.7V5.5H-1.6V1.7H-5.4V-1.6H-1.6Z" fill="url(#gPlus)" stroke="#0a8c0a" stroke-width=".9"/></g>
</defs>
<g shape-rendering="crispEdges">
<rect x="5" y="0" width="1" height="20" fill="#a0a0a0"/><rect x="6" y="0" width="1" height="20" fill="#fafafa"/>
<rect x="241" y="0" width="1" height="22" fill="#a0a0a0"/><rect x="242" y="0" width="1" height="22" fill="#fff"/>
<rect x="279" y="0" width="1" height="20" fill="#a0a0a0"/><rect x="280" y="0" width="24" height="20" fill="url(#chk)"/>
<rect x="336" y="0" width="1" height="20" fill="#a0a0a0"/>
<rect x="426" y="0" width="1" height="20" fill="#a0a0a0"/>
<rect x="431" y="0" width="1" height="20" fill="#a0a0a0"/><rect x="432" y="0" width="24" height="20" fill="url(#chk)"/>
<rect x="459" y="0" width="1" height="20" fill="#a0a0a0"/><rect x="460" y="0" width="24" height="20" fill="url(#chk)"/>
<rect x="488" y="0" width="1" height="20" fill="#a0a0a0"/>
<rect x="609" y="0" width="1" height="22" fill="#a0a0a0"/><rect x="610" y="0" width="1" height="22" fill="#fff"/>
<rect x="619" y="0" width="1" height="20" fill="#a0a0a0"/><rect x="620" y="0" width="24" height="20" fill="url(#chk)"/>
<rect x="676" y="0" width="1" height="20" fill="#a0a0a0"/>
<rect x="915" y="0" width="1" height="22" fill="#a0a0a0"/><rect x="916" y="0" width="1" height="22" fill="#fff"/>
<rect x="1065" y="0" width="1" height="20" fill="#a0a0a0"/><rect x="1066" y="0" width="24" height="20" fill="url(#chk)"/>
<rect x="1176" y="0" width="1" height="22" fill="#a0a0a0"/><rect x="1177" y="0" width="1" height="22" fill="#fff"/>
</g>
<use href="#grip" x="245" y="0"/><use href="#grip" x="613" y="0"/><use href="#grip" x="919" y="0"/>

<!-- new order -->
<use href="#doc" x="15" y="2"/>
<g stroke="#9a9a9a" stroke-width="1" shape-rendering="crispEdges"><path d="M17 5.5H20M17 8.5H22M17 10.5H22M17 12.5H20"/></g>
<use href="#plus" x="25" y="14.2"/>
<text x="34" y="13.3" font-size="12" fill="#000" font-weight="500">新订单</text>

<!-- book -->
<path d="M96.8 9.5L98 10.6V11.8L89.7 17.9L89 16.1Z" fill="#d9c78a" stroke="#9a6410" stroke-width=".9" stroke-linejoin="round"/>
<path d="M87.6 3.1L96.8 9.5L89 16.1L82.1 11.6Q86.6 8.6 87.6 3.1Z" fill="url(#gBook)" stroke="#a86a10" stroke-width="1" stroke-linejoin="round"/>

<!-- cloud server -->
<path d="M112 2.9L117.1 1.9L122.8 3.8V11H112Z" fill="#1590ee"/>
<path d="M112 2.9L115.6 4V11H112Z" fill="#36b0ff"/>
<path d="M112 2.9L117.1 1.9L122.8 3.8L115.6 4Z" fill="#1aa0f8"/>
<path d="M115.6 4V10.5" stroke="#dff2ff" stroke-width=".8"/>
<rect x="117.6" y="6.1" width="3.8" height="1.7" fill="#e4f3ff"/>
<path d="M112.5 17.7C110.3 17.7 109.9 15.4 111 14.3C111.3 13 113 12.4 114.2 13C115 10.8 117.5 9.9 119.6 10.7C121 11.2 121.8 12 122 12.7C123.6 12.1 125.4 12.9 125.6 14.5C126.4 15.7 125.6 17.7 123.8 17.7Z" fill="#e4eaf5" stroke="#4668a8" stroke-width="1"/>
<path d="M112 16.6H124.4" stroke="#c4cee4" stroke-width="1"/>

<!-- signal -->
<g fill="none" stroke="#3f74d8" stroke-width="1.3"><path d="M148.3 7.7A3.2 3.2 0 1 0 146 13.2" opacity=".8"/><path d="M150 6A5.6 5.6 0 1 0 146 15.6" opacity=".55"/><path d="M151.5 4.5A7.7 7.7 0 1 0 146 17.7" opacity=".3"/></g>
<path d="M146 10L151.6 4.4A7.9 7.9 0 0 1 146 17.9Z" fill="#3aa53a" opacity=".5"/>
<g fill="none" stroke="#e8f4e8" stroke-width=".9" opacity=".8"><path d="M148.3 7.7A3.2 3.2 0 0 1 146 13.2"/><path d="M150 6A5.6 5.6 0 0 1 146 15.6"/></g>
<circle cx="146" cy="9.6" r="1.9" fill="#2a5fd0"/>
<path d="M146.6 10V17.6" stroke="#22a022" stroke-width="1.4"/>

<!-- auto trading -->
<path d="M165.8 9L180.6 9L173.4 18.2Z" fill="url(#gFace)" stroke="#c8960c" stroke-width=".9" stroke-linejoin="round"/>
<ellipse cx="173" cy="7.3" rx="7.6" ry="2.6" fill="#58aede" stroke="#2a7eae" stroke-width=".9"/>
<ellipse cx="172.8" cy="5" rx="3.9" ry="2.9" fill="#72c0e8" stroke="#3a8ebe" stroke-width=".7"/>
<circle cx="177.6" cy="13.7" r="4.3" fill="#e62a0e"/>
<rect x="176.1" y="12.2" width="3" height="3" fill="#fff"/>
<text x="186.6" y="13.3" font-size="12" fill="#000" font-weight="500">自动交易</text>

<!-- chart type icons -->
<use href="#axes" x="259" y="0"/>
<path d="M265.5 5.3V13.6M265.5 6.2H268.2M262.8 12.4H265.5" stroke="#0a8a0a" stroke-width="1.4" fill="none"/>
<use href="#axes" x="287" y="0"/>
<path d="M293.5 2V14" stroke="#0a8a0a" stroke-width="1.2"/>
<rect x="291.2" y="4" width="4.6" height="7.8" fill="url(#gCandle)" stroke="#0a8a0a" stroke-width=".9"/>
<use href="#axes" x="315" y="0"/>
<path d="M314 12.6C317 9.5 318.5 7 320.2 7.2S323.5 10.5 326 11" stroke="#3aa03a" stroke-width="1.1" fill="none"/>

<!-- zoom in/out -->
<g id="mag"><path d="M355 12L360 16.4" stroke="#9a7408" stroke-width="3.6" stroke-linecap="round"/><path d="M355 12L360 16.4" stroke="#e6c030" stroke-width="2.2" stroke-linecap="round"/><circle cx="351" cy="8" r="5.3" fill="#dcf1fb" stroke="#2f7fd2" stroke-width="1.5"/></g>
<path d="M347.8 8H354.2M351 4.8V11.2" stroke="#3a86ba" stroke-width="1.9"/>
<use href="#mag" x="28" y="0"/>
<path d="M375.8 8H382.2" stroke="#3a86ba" stroke-width="1.9"/>

<!-- tile -->
<g shape-rendering="crispEdges">
<rect x="401" y="2" width="8" height="8" fill="#3d9b1d"/><rect x="409" y="2" width="8" height="8" fill="#1846c6"/>
<rect x="401" y="10" width="8" height="8" fill="#1846c6"/><rect x="409" y="10" width="8" height="8" fill="#3d9b1d"/>
<rect x="402" y="5" width="6" height="4" fill="#fff"/><rect x="410" y="5" width="6" height="4" fill="#fff"/>
<rect x="402" y="13" width="6" height="4" fill="#fff"/><rect x="410" y="13" width="6" height="4" fill="#fff"/>
<rect x="403" y="6" width="4" height="1" fill="#9ad08a"/><rect x="411" y="6" width="4" height="1" fill="#8aa4e8"/>
<rect x="403" y="14" width="4" height="1" fill="#8aa4e8"/><rect x="411" y="14" width="4" height="1" fill="#9ad08a"/>
<rect x="402" y="3" width="1" height="1" fill="#fff"/><rect x="410" y="3" width="1" height="1" fill="#fff"/><rect x="402" y="11" width="1" height="1" fill="#fff"/><rect x="410" y="11" width="1" height="1" fill="#fff"/>
</g>

<!-- autoscroll / shift -->
<use href="#axes" x="439" y="0"/>
<path d="M444.4 6V13L448.4 9.5Z" fill="#62d862" stroke="#0a8a0a" stroke-width="1" stroke-linejoin="round"/>
<use href="#axes" x="467" y="0"/>
<path d="M473.5 4V14" stroke="#1a6fa8" stroke-width="1.4"/>
<path d="M474.6 9.5L477.4 7V12ZM477 9.5H479.6" fill="#e04a10" stroke="#e04a10" stroke-width="1"/>

<!-- new chart -->
<use href="#doc" x="498" y="2"/>
<path d="M501.5 5C500.5 5 500.5 9 501.5 9M501 7H503" stroke="#6a6030" stroke-width=".9" fill="none"/>
<use href="#plus" x="508.2" y="14"/>
<use href="#dd" x="522.5" y="9"/>

<!-- clock -->
<circle cx="544" cy="9.8" r="7.9" fill="url(#gClock)"/>
<circle cx="544" cy="9.8" r="5.5" fill="#f4f8fc"/>
<path d="M544 6V10L546.8 10.6" stroke="#222" stroke-width="1.1" fill="none"/>
<path d="M544 13.4V14.4" stroke="#5aa0e8" stroke-width="1.2"/>
<use href="#dd" x="561.5" y="9"/>

<!-- template -->
<rect x="575.5" y="3.5" width="15" height="13" fill="#fff" stroke="#3a78c8"/>
<rect x="576" y="4" width="14" height="2" fill="#5a96dc"/>
<path d="M576 10.5H590" stroke="#3a78c8"/>
<path d="M577.5 9H579.5L581 7.8H583L584.5 8.6H586.5L588 7.5H589.5" stroke="#a82410" stroke-width="1.1" fill="none"/>
<path d="M578 14.4L580 13.6L582 14.4H584L586.3 12.3L589 14.6" stroke="#1a8a2a" stroke-width="1.1" fill="none"/>
<use href="#dd" x="600.5" y="9"/>

<!-- cursor -->
<path d="M627.2 3V14L629.9 11.7L632.3 17L634.1 16.1L631.8 11L635 10.7Z" fill="#505050"/>
<!-- crosshair -->
<g fill="#505050" shape-rendering="crispEdges"><rect x="652" y="10" width="6" height="1"/><rect x="661" y="10" width="6" height="1"/><rect x="659" y="3" width="1" height="6"/><rect x="659" y="12" width="1" height="6"/><rect x="659" y="10" width="1" height="1" fill="#909090"/>
<rect x="693" y="4" width="1" height="14"/>
<rect x="716" y="10" width="12" height="1"/></g>
<path d="M743.6 16.9L756 4.6" stroke="#505050" stroke-width="1"/>
<!-- channel -->
<g stroke="#505050" stroke-width="1" fill="none"><path d="M770 11.6L777.8 4M775 16.9L784 8.5"/><path d="M773 7.7L771.8 16M776.2 5.9L774.8 13.9M779.5 4.4L778 11.8M782.2 2.4L781.3 8.9" stroke-width="1.1"/></g>
<text x="781" y="18.8" font-size="6.5" font-weight="bold" fill="#404040">E</text>
<!-- fibo -->
<g stroke="#505050" stroke-width="1" stroke-dasharray="1 1" shape-rendering="crispEdges"><path d="M799 3.5H812M799 6.5H812M799 10.5H812M799 14.5H808"/></g>
<text x="808.8" y="18.8" font-size="6.5" font-weight="bold" fill="#404040">F</text>
<text x="829.6" y="14.8" font-size="12.6" fill="#484848" stroke="#484848" stroke-width=".35">A</text>
<rect x="856.5" y="4.5" width="12" height="12" fill="none" stroke="#505050" stroke-dasharray="1 1" shape-rendering="crispEdges"/>
<rect x="855" y="3" width="2" height="2" fill="#505050"/>
<text x="858" y="14.8" font-size="11" fill="#505050" textLength="8" lengthAdjust="spacingAndGlyphs">T</text>
<!-- arrows -->
<path d="M886.3 3.8L882.8 8H889.8Z" fill="#505050"/><path d="M890 12.7H896.9L893.5 16.9Z" fill="#505050"/>
<path d="M885 12L887.4 14L891.6 8.6" stroke="#505050" stroke-width="1.5" fill="none"/>
<use href="#dd" x="906.3" y="9"/>

<!-- timeframes -->
<g font-size="10.5" fill="#383838" text-anchor="middle">
<text transform="translate(937 14.2) scale(.92 1)">M1</text><text transform="translate(965 14.2) scale(.92 1)">M5</text><text transform="translate(993 14.2) scale(.92 1)">M15</text><text transform="translate(1021 14.2) scale(.92 1)">M30</text><text transform="translate(1049 14.2) scale(.92 1)">H1</text><text transform="translate(1077 14.2) scale(.92 1)">H4</text><text transform="translate(1105 14.2) scale(.92 1)">D1</text><text transform="translate(1134 14.2) scale(.92 1)">W1</text><text transform="translate(1161 14.2) scale(.92 1)">MN</text>
</g>

<!-- search -->
<path d="M1643.7 10.3L1639 14.8" stroke="#2456d0" stroke-width="2.6" stroke-linecap="round"/>
<circle cx="1646.9" cy="7.4" r="3.9" fill="#eef2fc" stroke="#2a5fd8" stroke-width="1.3"/>
<!-- chat -->
<path d="M1665.4 15.6L1666.2 18.6L1669.4 16.6Z" fill="#cfcfd8" stroke="#a8a8ac" stroke-width=".7"/>
<ellipse cx="1668.8" cy="12" rx="5.8" ry="4.7" fill="#dddee9" stroke="#b2b2b6" stroke-width=".9"/>
<circle cx="1677.6" cy="7.8" r="8.4" fill="url(#gBadge)"/>
<text x="1676.4" y="12" font-size="12.5" font-weight="bold" fill="#fff" text-anchor="middle">1</text>

</svg>
</body></html>
